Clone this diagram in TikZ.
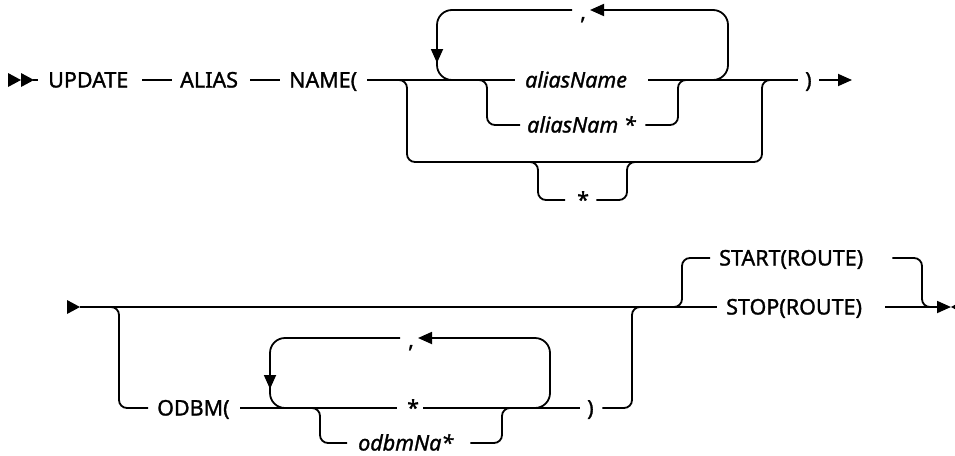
\documentclass[tikz,border=0pt]{standalone}
\usepackage{fontspec}
\setmainfont{Noto Sans}[FakeBold=1.3]
\usetikzlibrary{arrows.meta}
\newcommand{\synlab}[3]{\makebox[#1pt][l]{\hspace*{#2pt}#3}}
\tikzset{
  ln/.style={line width=1.8pt, line join=round},
  rc/.style={ln, rounded corners=8pt},
  rcl/.style={ln, rounded corners=15pt},
  tip/.style={-{Triangle[length=14pt,width=12pt]}},
  lbl/.style={anchor=west, inner sep=0pt, text height=15pt, text depth=0pt,
              font=\fontsize{21.5}{26}\selectfont}
}
\begin{document}
\begin{tikzpicture}[x=1pt,y=-1pt]
\useasboundingbox (0,0) rectangle (955,455);

% ---------- row 1 ----------
\fill (8,73) -- (21,80) -- (8,87) -- cycle;
\fill (21,73) -- (34,80) -- (21,87) -- cycle;
\coordinate (s1) at (33,80);
\node[lbl] (update) at (38,80) {\synlab{104}{10}{UPDATE}};
\node[lbl] (alias) at (172,80) {\synlab{78}{8}{ALIAS}};
\node[lbl] (name) at (280,80) {\synlab{87}{9}{NAME(}};
\node[lbl] (aliasname) at (515,80) {\synlab{133}{10}{\itshape aliasName}};
\node[lbl] (aliasnam) at (520,125) {\synlab{125}{7}{\itshape aliasNam *}};
\node[lbl] (star1) at (565,200) {\synlab{31}{12}{*}};
\node[lbl] (rp1) at (798,80) {\synlab{21}{7}{)}};
\node[lbl] (comma1) at (572,12) {\synlab{18}{8}{,}};
\coordinate (e1) at (852,80);

\draw[ln] (s1) -- (update.west);
\draw[ln] (update.east) -- (alias.west);
\draw[ln] (alias.east) -- (name.west);
\draw[ln] (name.east) -- (aliasname.west);
\draw[ln] (aliasname.east) -- (rp1.west);
\draw[ln,tip] (rp1.east) -- (e1);

% empty / star branch
\coordinate (b1a) at (392,80);
\coordinate (b1b) at (407,162);
\coordinate (b1c) at (762,80);
\coordinate (b1d) at (774,80);
\draw[rc] (b1a) -| (b1b) -| (b1c) -- (b1d);
\coordinate (sa) at (528,162);
\coordinate (sb) at (538,200);
\coordinate (sc) at (627,200);
\coordinate (sd) at (638,162);
\draw[rc] (sa) -| (sb) -- (star1.west);
\draw[rc] (star1.east) -- (sc) |- (sd);

% aliasNam * branch
\coordinate (ja1) at (474,80);
\coordinate (ja2) at (487,125);
\coordinate (ja3) at (678,125);
\coordinate (ja4) at (692,80);
\draw[rc] (ja1) -| (ja2) -- (aliasnam.west);
\draw[rc] (aliasnam.east) -- (ja3) |- (ja4);

% repeat loop
\coordinate (l1) at (700,80);
\coordinate (l2) at (728,10);
\coordinate (l2b) at (590,10);
\coordinate (l2c) at (572,10);
\coordinate (l3) at (437,63);
\coordinate (l3b) at (437,58);
\coordinate (l4) at (462,80);
\draw[rcl,tip] (l1) -| (l2) -- (l2b);
\draw[rcl,tip] (l2c) -| (l3);
\draw[rcl] (l3b) |- (l4);

% ---------- row 2 ----------
\fill (67,300) -- (80,307) -- (67,314) -- cycle;
\coordinate (s2) at (80,307);
\node[lbl] (odbm) at (148,408) {\synlab{92}{9}{ODBM(}};
\node[lbl] (star2) at (397,408) {\synlab{26}{10}{*}};
\node[lbl] (rp2) at (580,408) {\synlab{22}{7}{)}};
\node[lbl] (comma2) at (400,340) {\synlab{18}{8}{,}};
\node[lbl] (odbmna) at (347,443) {\synlab{123}{11}{\itshape odbmNa*}};
\node[lbl] (start) at (710,258) {\synlab{182}{9}{START(ROUTE)}};
\node[lbl] (stop) at (717,307) {\synlab{168}{9}{STOP(ROUTE)}};
\coordinate (e2) at (951,307);

\draw[ln] (s2) -- (stop.west);

% ODBM branch
\coordinate (o1) at (105,307);
\coordinate (o2) at (119,408);
\coordinate (o3) at (632,307);
\coordinate (o4) at (646,307);
\draw[rc] (o1) -| (o2) -- (odbm.west);
\draw[ln] (odbm.east) -- (star2.west);
\draw[ln] (star2.east) -- (rp2.west);
\draw[rc] (rp2.east) -| (o3) -- (o4);

% odbmNa* branch
\coordinate (n1) at (306,408);
\coordinate (n2) at (320,443);
\coordinate (n3) at (502,443);
\coordinate (n4) at (515,408);
\draw[rc] (n1) -| (n2) -- (odbmna.west);
\draw[rc] (odbmna.east) -- (n3) |- (n4);

% repeat loop row 2
\coordinate (m1) at (522,408);
\coordinate (m2) at (550,338);
\coordinate (m2b) at (418,338);
\coordinate (m2c) at (400,338);
\coordinate (m3) at (270,389);
\coordinate (m3b) at (270,384);
\coordinate (m4) at (294,408);
\draw[rcl,tip] (m1) -| (m2) -- (m2b);
\draw[rcl,tip] (m2c) -| (m3);
\draw[rcl] (m3b) |- (m4);

% START / STOP
\coordinate (p1) at (668,307);
\coordinate (p2) at (682,258);
\coordinate (p3) at (922,307);
\coordinate (p4) at (936,307);
\draw[rc] (p1) -| (p2) -- (start.west);
\draw[rc] (start.east) -| (p3) -- (p4);
\draw[ln,tip] (stop.east) -- (e2);
\fill (962,301) -- (951,307) -- (962,313) -- cycle;
\end{tikzpicture}
\end{document}
